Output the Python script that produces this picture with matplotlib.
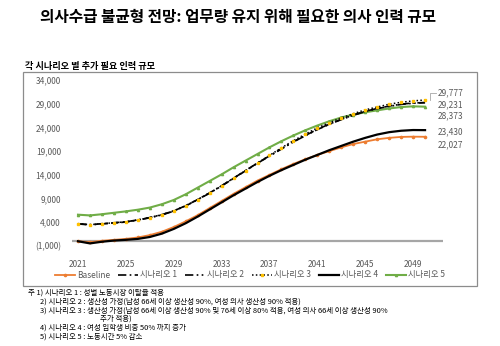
import matplotlib
matplotlib.use('Agg')
import matplotlib.pyplot as plt
from matplotlib.patches import Rectangle
from matplotlib.lines import Line2D

plt.rcParams['font.family'] = ['Noto Sans CJK KR', 'DejaVu Sans']

years = list(range(2021, 2051))

baseline = [0, -200, 100, 300, 500, 800, 1300, 2000, 3000, 4200,
            5500, 7000, 8500, 10000, 11400, 12800, 14000, 15200, 16300, 17300,
            18200, 19000, 19800, 20500, 21000, 21500, 21800, 22000, 22050, 22027]
sc1 = [3700, 3500, 3700, 3900, 4100, 4500, 5000, 5600, 6400, 7500,
       8800, 10200, 11700, 13300, 14900, 16500, 18000, 19500, 21000, 22300,
       23600, 24700, 25700, 26600, 27400, 28000, 28500, 28900, 29150, 29231]
sc2 = [3650, 3450, 3650, 3850, 4050, 4450, 4950, 5550, 6350, 7450,
       8750, 10150, 11650, 13250, 14850, 16450, 17950, 19450, 20950, 22250,
       23550, 24650, 25650, 26550, 27350, 27950, 28450, 28850, 29100, 29231]
sc3 = [3700, 3500, 3700, 3900, 4100, 4500, 5000, 5600, 6400, 7500,
       8800, 10200, 11700, 13300, 14900, 16500, 18100, 19700, 21200, 22600,
       23900, 25000, 26000, 26900, 27700, 28300, 28900, 29300, 29600, 29777]
sc4 = [0, -450, -100, 150, 300, 500, 900, 1600, 2600, 3800,
       5200, 6700, 8200, 9700, 11100, 12500, 13800, 15000, 16100, 17200,
       18200, 19200, 20100, 21000, 21800, 22500, 23000, 23300, 23450, 23430]
sc5 = [5600, 5450, 5700, 6000, 6300, 6650, 7100, 7800, 8700, 9900,
       11300, 12700, 14100, 15600, 17000, 18400, 19800, 21100, 22300, 23400,
       24400, 25300, 26100, 26700, 27200, 27600, 28000, 28300, 28450, 28373]

yticks = [-1000, 4000, 9000, 14000, 19000, 24000, 29000, 34000]
ytick_labels = ['(1,000)', '4,000', '9,000', '14,000', '19,000', '24,000', '29,000', '34,000']
xticks = [2021, 2025, 2029, 2033, 2037, 2041, 2045, 2049]

end_labels = ['29,777', '29,231', '28,373', '23,430', '22,027']
end_label_y = [31300, 28700, 26500, 23000, 20300]

notes = ['주 1) 시나리오 1 : 성별 노동시장 이탈율 적용',
         '2) 시나리오 2 : 생산성 가정(남성 66세 이상 생산성 90%, 여성 의사 생산성 90% 적용)',
         '3) 시나리오 3 : 생산성 가정(남성 66세 이상 생산성 90% 및 76세 이상 80% 적용, 여성 의사 66세 이상 생산성 90%',
         '추가 적용)',
         '4) 시나리오 4 : 여성 입학생 비중 50% 까지 증가',
         '5) 시나리오 5 : 노동시간 5% 감소']

orange = '#ED7D31'
green = '#70AD47'
yellow = '#FFC000'
gray = '#595959'

fig = plt.figure(figsize=(5, 3.46), dpi=100)

# chart box
fig.patches.append(Rectangle((23/500, 1-286/346), (477-23)/500, (286-72)/346,
                             transform=fig.transFigure, fill=False,
                             edgecolor='#8c8c8c', lw=0.9))

ax = fig.add_axes([72/500, 1-246/346, (443-72)/500, (246-80)/346])
ax.axhline(0, color='#a6a6a6', lw=1.6, zorder=1)

ax.plot(years, baseline, color=orange, lw=1.3, marker='o', ms=1.6, zorder=3)
ax.plot(years, sc1, color='black', lw=1.2, ls=(0, (5, 2, 1, 2)), zorder=4)
ax.plot(years, sc2, color='black', lw=1.2, ls=(0, (5, 2, 1, 2, 1, 2)), zorder=4)
ax.plot(years, sc3, color='black', lw=1.1, ls=(0, (1, 1.5)), marker='s', ms=1.6,
        mfc=yellow, mec=yellow, zorder=5)
ax.plot(years, sc4, color='black', lw=1.6, zorder=3)
ax.plot(years, sc5, color=green, lw=1.5, marker='^', ms=1.6, zorder=2)

ax.set_xlim(2020.5, 2051.5)
ax.set_ylim(-1000, 34000)
ax.set_yticks(yticks)
ax.set_yticklabels(ytick_labels)
ax.set_xticks(xticks)
ax.set_xticklabels([str(x) for x in xticks])
ax.tick_params(axis='y', length=0, labelsize=6, labelcolor=gray, pad=8)
ax.tick_params(axis='x', length=0, labelsize=6, labelcolor=gray, pad=10)
for s in ax.spines.values():
    s.set_visible(False)

# end labels
for lab, yv in zip(end_labels, end_label_y):
    ax.text(2051.1, yv, lab, fontsize=6, color=gray, va='center', ha='left')
ax.plot([2050.4, 2050.4, 2050.9], [29800, 31300, 31300], color='#a6a6a6', lw=0.6)

# legend
handles = [Line2D([], [], color=orange, lw=1.3, marker='o', ms=1.6),
           Line2D([], [], color='black', lw=1.2, ls=(0, (5, 2, 1, 2))),
           Line2D([], [], color='black', lw=1.2, ls=(0, (5, 2, 1, 2, 1, 2))),
           Line2D([], [], color='black', lw=1.1, ls=(0, (1, 1.5)), marker='s', ms=1.6,
                  mfc=yellow, mec=yellow),
           Line2D([], [], color='black', lw=1.6),
           Line2D([], [], color=green, lw=1.5, marker='^', ms=1.6)]
labels = ['Baseline', '시나리오 1', '시나리오 2', '시나리오 3', '시나리오 4', '시나리오 5']
leg = fig.legend(handles, labels, loc='center', bbox_to_anchor=(250/500, 1-275/346),
                 ncol=6, frameon=False, fontsize=6, handlelength=2.4, handletextpad=0.2,
                 columnspacing=1.0, labelcolor=gray)

fig.text(238/500, 1-17/346, '의사수급 불균형 전망: 업무량 유지 위해 필요한 의사 인력 규모',
         ha='center', va='center', fontsize=11.3, fontweight='bold')
fig.text(25/500, 1-67/346, '각 시나리오 별 추가 필요 인력 규모',
         ha='left', va='center', fontsize=6.6, fontweight='bold')

note_x = [28, 40, 40, 100, 40, 40]
note_y = [293, 302, 311, 319, 328, 337]
for t, nx, ny in zip(notes, note_x, note_y):
    fig.text(nx/500, 1-ny/346, t, ha='left', va='center', fontsize=5.4)

fig.savefig('out.png', dpi=100)
